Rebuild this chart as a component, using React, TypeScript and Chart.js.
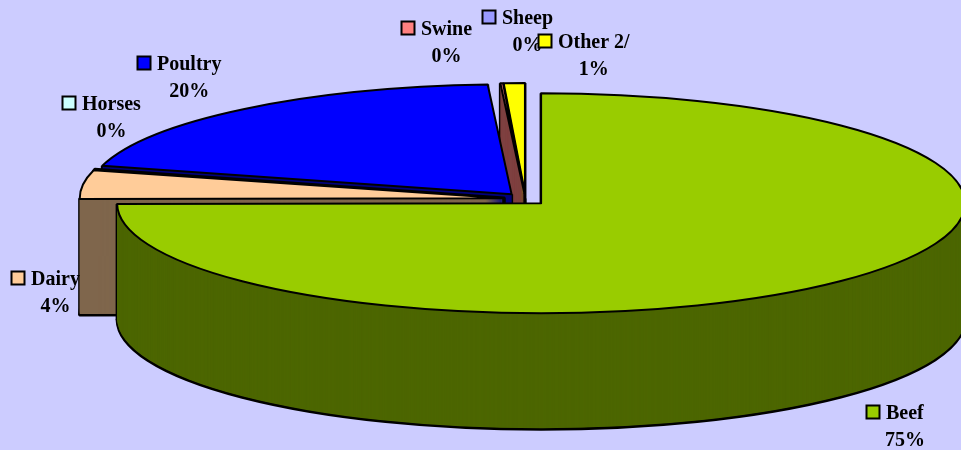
import React, { useEffect, useRef } from "react";
import { Chart, registerables } from "chart.js";

Chart.register(...registerables);

// ---- data ----
const categories = ["Beef", "Dairy", "Horses", "Poultry", "Swine", "Sheep", "Other 2/"];
const values = [74.9, 4.2, 0.1, 19.9, 0.1, 0.0, 0.8];
const topColors = ["#99CC00", "#FFCC99", "#CCFFFF", "#0000FF", "#FF8080", "#9999FF", "#FFFF00"];
// label anchors: left x of the name text, baseline y of the name line
const labelAnchors = [
  [886, 419],
  [31, 285],
  [82, 110],
  [157, 70],
  [421, 35],
  [502, 24],
  [558, 48],
];

// ---- layout / style ----
const W = 961;
const H = 450;
const BG = "#CCCCFF";
const PIE = { cx: 525.5, cy: 199, rx: 424, ry: 110, depth: 116, explodeX: 22, explodeY: 6 };
const FONT = 'bold 20px "Liberation Serif", "Times New Roman", serif';

function darken(hex: string): string {
  const n = parseInt(hex.slice(1), 16);
  const r = Math.floor(((n >> 16) & 255) / 2);
  const g = Math.floor(((n >> 8) & 255) / 2);
  const b = Math.floor((n & 255) / 2);
  return `rgb(${r},${g},${b})`;
}

const pie3d = {
  id: "pie3d",
  beforeDatasetsDraw(chart: any) {
    const ctx: CanvasRenderingContext2D = chart.ctx;
    const meta = chart.getDatasetMeta(0);
    const items = meta.data
      .map((el: any, i: number) => ({ el, i, mid: (el.startAngle + el.endAngle) / 2 }))
      .filter((it: any) => it.el.endAngle - it.el.startAngle > 1e-6);
    items.sort((a: any, b: any) => Math.sin(a.mid) - Math.sin(b.mid));

    for (const it of items) {
      const { el, i, mid } = it;
      const kx = PIE.rx / el.outerRadius;
      const ky = PIE.ry / el.outerRadius;
      const cx = PIE.cx + PIE.explodeX * Math.cos(mid);
      const cy = PIE.cy + PIE.explodeY * Math.sin(mid);

      const fillAt = (d: number, color: string) => {
        const proxy = Object.create(el);
        proxy.options = { ...el.options, backgroundColor: color, borderWidth: 0, offset: 0, spacing: 0 };
        ctx.save();
        ctx.translate(cx, cy + d);
        ctx.scale(kx, ky);
        ctx.translate(-el.x, -el.y);
        proxy.draw(ctx);
        ctx.restore();
      };
      const wedge = (d: number) => {
        ctx.beginPath();
        ctx.moveTo(cx, cy + d);
        ctx.ellipse(cx, cy + d, PIE.rx, PIE.ry, 0, el.startAngle, el.endAngle);
        ctx.closePath();
      };
      const rim = (a: number) => [cx + PIE.rx * Math.cos(a), cy + PIE.ry * Math.sin(a)];

      const side = darken(topColors[i]);
      ctx.save();
      ctx.strokeStyle = "#000";
      ctx.lineJoin = "round";

      fillAt(PIE.depth, side);
      ctx.lineWidth = 3;
      wedge(PIE.depth);
      ctx.stroke();

      const pts: number[][] = [[cx, cy], rim(el.startAngle), rim(el.endAngle)];
      for (const a of [0, Math.PI]) {
        if (a > el.startAngle && a < el.endAngle) pts.push(rim(a));
      }
      ctx.beginPath();
      for (const p of pts) {
        ctx.moveTo(p[0], p[1]);
        ctx.lineTo(p[0], p[1] + PIE.depth);
      }
      ctx.stroke();

      for (let d = PIE.depth - 1; d >= 1; d--) fillAt(d, side);
      fillAt(0, topColors[i]);
      ctx.lineWidth = 2;
      wedge(0);
      ctx.stroke();
      ctx.restore();
    }
    return false;
  },
  afterDraw(chart: any) {
    const ctx: CanvasRenderingContext2D = chart.ctx;
    const total = values.reduce((s, v) => s + v, 0);
    ctx.save();
    ctx.font = FONT;
    ctx.textBaseline = "alphabetic";
    categories.forEach((name, i) => {
      const [x, y] = labelAnchors[i];
      ctx.fillStyle = topColors[i];
      ctx.fillRect(x - 19.5, y - 13.5, 13, 13);
      ctx.lineWidth = 2;
      ctx.strokeStyle = "#000";
      ctx.strokeRect(x - 19.5, y - 13.5, 13, 13);
      ctx.fillStyle = "#000";
      ctx.textAlign = "left";
      ctx.fillText(name, x, y);
      const w = ctx.measureText(name).width;
      ctx.textAlign = "center";
      ctx.fillText(`${Math.round((values[i] / total) * 100)}%`, x + w / 2, y + 26.5);
    });
    ctx.restore();
  },
};

export default function App() {
  const ref = useRef<HTMLCanvasElement | null>(null);
  useEffect(() => {
    if (!ref.current) return;
    const chart = new Chart(ref.current, {
      type: "pie",
      data: {
        labels: categories,
        datasets: [{ data: values, backgroundColor: topColors, borderWidth: 0 }],
      },
      options: {
        animation: false,
        responsive: false,
        layout: { padding: 0 },
        plugins: { legend: { display: false }, tooltip: { enabled: false } },
      },
      plugins: [pie3d as any],
    });
    return () => chart.destroy();
  }, []);
  return (
    <div style={{ position: "fixed", left: 0, top: 0, width: W, height: H, background: BG, overflow: "hidden" }}>
      <canvas ref={ref} width={W} height={H} style={{ display: "block", width: W, height: H }} />
    </div>
  );
}
